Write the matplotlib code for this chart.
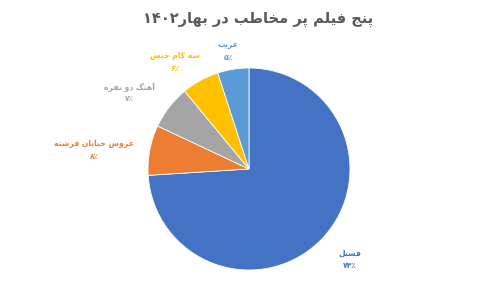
import matplotlib
matplotlib.use("Agg")
import matplotlib.pyplot as plt

# data
films = ["فسیل", "عروس خیابان فرشته", "آهنگ دو نفره", "سه کام حبس", "غریب"]
shares = [74, 8, 7, 6, 5]
pct_labels = ["۷۴٪", "۸٪", "۷٪", "۶٪", "۵٪"]
colors = ["#4472C4", "#ED7D31", "#A5A5A5", "#FFC000", "#5B9BD5"]
title = "پنج فیلم پر مخاطب در بهار۱۴۰۲"

# minimal persian shaping: (isolated, final, initial, medial); 2-tuple = right-joining only
FORMS = {
    "ا": (0xFE8D, 0xFE8E), "آ": (0xFE81, 0xFE82), "د": (0xFEA9, 0xFEAA),
    "ر": (0xFEAD, 0xFEAE), "و": (0xFEED, 0xFEEE),
    "ب": (0xFE8F, 0xFE90, 0xFE91, 0xFE92), "پ": (0xFB56, 0xFB57, 0xFB58, 0xFB59),
    "ت": (0xFE95, 0xFE96, 0xFE97, 0xFE98), "ج": (0xFE9D, 0xFE9E, 0xFE9F, 0xFEA0),
    "ح": (0xFEA1, 0xFEA2, 0xFEA3, 0xFEA4), "خ": (0xFEA5, 0xFEA6, 0xFEA7, 0xFEA8),
    "س": (0xFEB1, 0xFEB2, 0xFEB3, 0xFEB4), "ش": (0xFEB5, 0xFEB6, 0xFEB7, 0xFEB8),
    "ط": (0xFEC1, 0xFEC2, 0xFEC3, 0xFEC4), "ع": (0xFEC9, 0xFECA, 0xFECB, 0xFECC),
    "غ": (0xFECD, 0xFECE, 0xFECF, 0xFED0), "ف": (0xFED1, 0xFED2, 0xFED3, 0xFED4),
    "ک": (0xFB8E, 0xFB8F, 0xFB90, 0xFB91), "گ": (0xFB92, 0xFB93, 0xFB94, 0xFB95),
    "ل": (0xFEDD, 0xFEDE, 0xFEDF, 0xFEE0), "م": (0xFEE1, 0xFEE2, 0xFEE3, 0xFEE4),
    "ن": (0xFEE5, 0xFEE6, 0xFEE7, 0xFEE8), "ه": (0xFEE9, 0xFEEA, 0xFEEB, 0xFEEC),
    "ی": (0xFBFC, 0xFBFD, 0xFBFE, 0xFBFF),
}


def rtl(s):
    out = []
    for i, ch in enumerate(s):
        if ch not in FORMS:
            out.append(ch); continue
        prev = s[i-1] if i > 0 else ""
        nxt = s[i+1] if i + 1 < len(s) else ""
        joins_prev = prev in FORMS and len(FORMS[prev]) == 4
        joins_next = len(FORMS[ch]) == 4 and nxt in FORMS
        f = FORMS[ch]
        if joins_prev and joins_next: c = f[3]
        elif joins_prev: c = f[1]
        elif joins_next: c = f[2]
        else: c = f[0]
        out.append(chr(c))
    # visual order: reverse, but keep digit runs left-to-right
    runs, cur, isdig = [], "", None
    for ch in out:
        d = ch.isdigit()
        if cur and d != isdig:
            runs.append(cur); cur = ""
        cur += ch; isdig = d
    runs.append(cur)
    return "".join(r if r[0].isdigit() else r[::-1] for r in runs[::-1])


plt.rcParams["font.family"] = ["DejaVu Sans"]
fig = plt.figure(figsize=(5.0, 2.89), dpi=100)
ax = fig.add_axes([(249-101)/500, (289-169-101)/289, 202/500, 202/289])
ax.pie(shares, colors=colors, startangle=90, counterclock=False,
       wedgeprops=dict(edgecolor="white", linewidth=0.6))
ax.set_xlim(-1, 1); ax.set_ylim(-1, 1); ax.set_aspect("equal"); ax.axis("off")

fig.text(258/500, 1-19/289, rtl(title), ha="center", va="center", fontsize=10.5,
         fontweight="bold", color="#595959")

# label positions in pixels (name centre); percent sits just below
label_xy = [(350, 253), (94, 144), (129, 87), (175, 56), (228, 45)]
for name, pct, col, (x, y) in zip(films, pct_labels, colors, label_xy):
    fig.text(x/500, 1-y/289, rtl(name), ha="center", va="center", fontsize=5.5,
             fontweight="bold", color=col)
    fig.text(x/500, 1-(y+12)/289, pct, ha="center", va="center", fontsize=5.5,
             fontweight="bold", color=col)

fig.savefig("out.png", dpi=100)
